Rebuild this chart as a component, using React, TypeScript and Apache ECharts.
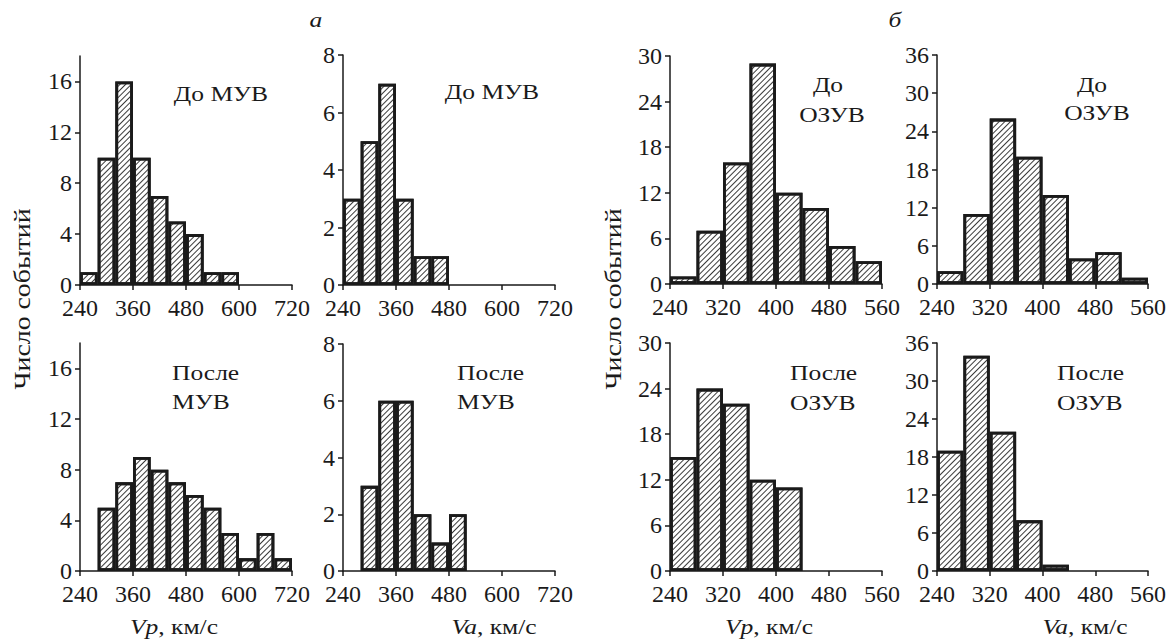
import React, { useEffect, useRef } from "react";
import * as echarts from "echarts";

// Bins (40 km/s wide)
const binsWide = ["240–280", "280–320", "320–360", "360–400", "400–440", "440–480", "480–520", "520–560", "560–600", "600–640", "640–680", "680–720"];
const binsNarrow = ["240–280", "280–320", "320–360", "360–400", "400–440", "440–480", "480–520", "520–560"];

// Panel a (МУВ)
const vpBeforeMUV = [1, 10, 16, 10, 7, 5, 4, 1, 1, null, null, null];
const vaBeforeMUV = [3, 5, 7, 3, 1, 1, null, null, null, null, null, null];
const vpAfterMUV = [null, 5, 7, 9, 8, 7, 6, 5, 3, 1, 3, 1];
const vaAfterMUV = [null, 3, 6, 6, 2, 1, 2, null, null, null, null, null];

// Panel б (ОЗУВ)
const vpBeforeOZUV = [1, 7, 16, 29, 12, 10, 5, 3];
const vaBeforeOZUV = [2, 11, 26, 20, 14, 4, 5, 1];
const vpAfterOZUV = [15, 24, 22, 12, 11, null, null, null];
const vaAfterOZUV = [19, 34, 22, 8, 1, null, null, null];

// Axis ticks
const xTicksWide = { min: 240, max: 720, interval: 120 };
const xTicksNarrow = { min: 240, max: 560, interval: 80 };
const yTicksVpMUV = [0, 4, 8, 12, 16];
const yTicksVaMUV = [0, 2, 4, 6, 8];
const yTicksVpOZUV = [0, 6, 12, 18, 24, 30];
const yTicksVaOZUV = [0, 6, 12, 18, 24, 30, 36];

const FONT = '"Liberation Serif", "Times New Roman", serif';
const INK = "#1a1a1a";
const SX = 1.16; // horizontal stretch of the reference lettering

type Panel = {
  grid: { left: number; top: number; width: number; height: number };
  bins: string[];
  values: (number | null)[];
  xr: { min: number; max: number; interval: number };
  yMax: number;
  yTicks: number[];
};

const panels: Panel[] = [
  { grid: { left: 80, top: 56, width: 212, height: 229 }, bins: binsWide, values: vpBeforeMUV, xr: xTicksWide, yMax: 18, yTicks: yTicksVpMUV },
  { grid: { left: 343, top: 55, width: 212, height: 230 }, bins: binsWide, values: vaBeforeMUV, xr: xTicksWide, yMax: 8, yTicks: yTicksVaMUV },
  { grid: { left: 80, top: 343, width: 212, height: 228 }, bins: binsWide, values: vpAfterMUV, xr: xTicksWide, yMax: 18, yTicks: yTicksVpMUV },
  { grid: { left: 343, top: 344, width: 212, height: 227 }, bins: binsWide, values: vaAfterMUV, xr: xTicksWide, yMax: 8, yTicks: yTicksVaMUV },
  { grid: { left: 670, top: 56, width: 212, height: 228 }, bins: binsNarrow, values: vpBeforeOZUV, xr: xTicksNarrow, yMax: 30, yTicks: yTicksVpOZUV },
  { grid: { left: 937, top: 55, width: 211, height: 229 }, bins: binsNarrow, values: vaBeforeOZUV, xr: xTicksNarrow, yMax: 36, yTicks: yTicksVaOZUV },
  { grid: { left: 670, top: 343, width: 212, height: 228 }, bins: binsNarrow, values: vpAfterOZUV, xr: xTicksNarrow, yMax: 30, yTicks: yTicksVpOZUV },
  { grid: { left: 937, top: 343, width: 211, height: 228 }, bins: binsNarrow, values: vaAfterOZUV, xr: xTicksNarrow, yMax: 36, yTicks: yTicksVaOZUV },
];

const labelStyle = { fontFamily: FONT, fontSize: 24, color: INK, lineHeight: 18 };

function txt(text: string, x: number, y: number, align: string, extra: any = {}, size = 22) {
  const { italic, rich, ...rest } = extra;
  return {
    type: "text",
    x,
    y,
    scaleX: SX,
    silent: true,
    ...rest,
    style: {
      text,
      fontFamily: FONT,
      fontSize: size,
      fontStyle: italic ? "italic" : "normal",
      fill: INK,
      textAlign: align,
      align,
      textVerticalAlign: "middle",
      verticalAlign: "middle",
      rich,
    },
  };
}

const axisTitleRich = {
  i: { fontFamily: FONT, fontSize: 22, fontStyle: "italic", fill: INK, color: INK },
  n: { fontFamily: FONT, fontSize: 22, fill: INK, color: INK },
};

export default function App() {
  const ref = useRef<HTMLDivElement>(null);

  useEffect(() => {
    if (!ref.current) return;
    const chart = echarts.init(ref.current, null, { renderer: "svg" });

    const grid: any[] = [];
    const xAxis: any[] = [];
    const yAxis: any[] = [];
    const series: any[] = [];

    panels.forEach((p, i) => {
      grid.push({ ...p.grid, containLabel: false });
      xAxis.push({
        type: "value",
        gridIndex: i,
        min: p.xr.min,
        max: p.xr.max,
        interval: p.xr.interval,
        splitLine: { show: false },
        axisLine: { show: true, onZero: false, lineStyle: { color: INK, width: 1.5 } },
        axisTick: { show: true, inside: false, length: 5, lineStyle: { color: INK, width: 1.5 } },
        axisLabel: { ...labelStyle, margin: 14 },
      });
      xAxis.push({
        type: "category",
        gridIndex: i,
        data: p.bins,
        boundaryGap: true,
        show: false,
      });
      yAxis.push({
        type: "value",
        gridIndex: i,
        min: 0,
        max: p.yMax,
        splitLine: { show: false },
        axisLine: { show: true, lineStyle: { color: INK, width: 1.5 } },
        axisTick: { show: true, inside: false, length: 5, customValues: p.yTicks, lineStyle: { color: INK, width: 1.5 } },
        axisLabel: { ...labelStyle, margin: 8, customValues: p.yTicks },
      });
      series.push({
        type: "bar",
        xAxisIndex: 2 * i + 1,
        yAxisIndex: i,
        data: p.values.map((v) => (v === null ? "-" : v)),
        barWidth: "100%",
        barCategoryGap: 0,
        itemStyle: {
          color: "#ffffff",
          borderColor: INK,
          borderWidth: 2.8,
          decal: {
            symbol: "rect",
            symbolSize: 1,
            dashArrayX: [1, 0],
            dashArrayY: [1, 3],
            rotation: -Math.PI / 4,
            color: "#3a3a3a",
          },
        },
        silent: true,
      });
    });

    const graphic: any[] = [
      txt("а", 316, 20, "center", { italic: true }),
      txt("б", 895, 20, "center", { italic: true }),
      txt("Число событий", 22, 299, "center", { rotation: Math.PI / 2 }, 24),
      txt("Число событий", 613, 299, "center", { rotation: Math.PI / 2 }, 24),
      txt("До МУВ", 221, 94, "center"),
      txt("До МУВ", 492, 92, "center"),
      txt("После", 172, 373, "left"),
      txt("МУВ", 172, 402, "left"),
      txt("После", 457, 373, "left"),
      txt("МУВ", 457, 402, "left"),
      txt("До", 828, 85, "center"),
      txt("ОЗУВ", 832, 115, "center"),
      txt("До", 1092, 85, "center"),
      txt("ОЗУВ", 1097, 113, "center"),
      txt("После", 790, 373, "left"),
      txt("ОЗУВ", 790, 403, "left"),
      txt("После", 1057, 373, "left"),
      txt("ОЗУВ", 1057, 403, "left"),
      txt("{i|Vp}{n|, км/с}", 174, 627, "center", { rich: axisTitleRich }),
      txt("{i|Va}{n|, км/с}", 494, 627, "center", { rich: axisTitleRich }),
      txt("{i|Vp}{n|, км/с}", 769, 627, "center", { rich: axisTitleRich }),
      txt("{i|Va}{n|, км/с}", 1085, 627, "center", { rich: axisTitleRich }),
    ];

    chart.setOption({
      animation: false,
      backgroundColor: "#ffffff",
      grid,
      xAxis,
      yAxis,
      series,
      graphic,
    });

    return () => chart.dispose();
  }, []);

  return (
    <div
      ref={ref}
      style={{ position: "fixed", left: 0, top: 0, width: 1171, height: 639, background: "#fff" }}
    />
  );
}
